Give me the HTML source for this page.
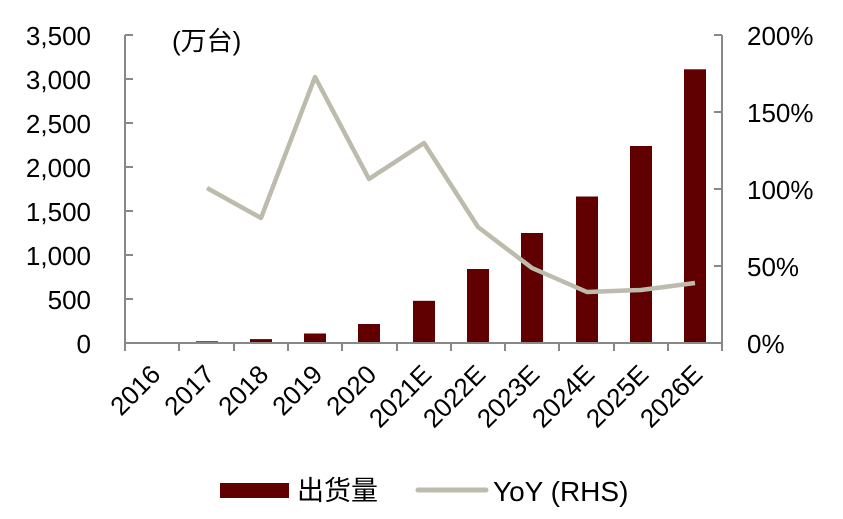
<!DOCTYPE html>
<html><head><meta charset="utf-8"><style>body{margin:0;background:#fff}svg{display:block}</style></head><body>
<svg width="843" height="519" xmlns="http://www.w3.org/2000/svg" font-family="Liberation Sans, Noto Sans CJK SC, sans-serif">
<g fill="#600000">
<rect x="196" y="341.3" width="22" height="1.7"/>
<rect x="250" y="339.1" width="22" height="3.9"/>
<rect x="304" y="333.5" width="22" height="9.5"/>
<rect x="358" y="324" width="22" height="19"/>
<rect x="413" y="300.8" width="22" height="42.2"/>
<rect x="467" y="269" width="22" height="74"/>
<rect x="521" y="233" width="22" height="110"/>
<rect x="576" y="196.5" width="22" height="146.5"/>
<rect x="630" y="146" width="22" height="197"/>
<rect x="684" y="69.3" width="22" height="273.7"/>
</g>
<polyline fill="none" stroke="#bcbbac" stroke-width="4.5" stroke-linejoin="round" points="207,188 261,218 315,77 369,179 424,143 478,227 532,268 587,292 641,290 695,283"/>
<g stroke="#888" stroke-width="2" fill="none">
<line x1="125" y1="35" x2="125" y2="351"/>
<line x1="722" y1="35" x2="722" y2="343"/>
<line x1="125" y1="343" x2="722" y2="343"/>
<path d="M125 35h8M125 79h8M125 123h8M125 167h8M125 211h8M125 255h8M125 299h8"/>
<path d="M722 35h-8M722 112h-8M722 189h-8M722 266h-8"/>
<path d="M179 343v8M234 343v8M288 343v8M342 343v8M397 343v8M451 343v8M505 343v8M559 343v8M614 343v8M668 343v8M722 343v8"/>
</g>
<g font-size="26" fill="#000" text-anchor="end">
<text x="91" y="45">3,500</text><text x="91" y="89">3,000</text><text x="91" y="133">2,500</text><text x="91" y="177">2,000</text><text x="91" y="221">1,500</text><text x="91" y="265">1,000</text><text x="91" y="309">500</text><text x="91" y="353">0</text>
</g>
<g font-size="26" fill="#000">
<text x="747" y="45">200%</text><text x="747" y="122">150%</text><text x="747" y="199">100%</text><text x="747" y="276">50%</text><text x="747" y="353">0%</text>
<text x="172" y="50">(万台)</text>
</g>
<g font-size="26" fill="#000" text-anchor="end">
<text transform="translate(162,376) rotate(-45)">2016</text>
<text transform="translate(216,376) rotate(-45)">2017</text>
<text transform="translate(270,376) rotate(-45)">2018</text>
<text transform="translate(324,376) rotate(-45)">2019</text>
<text transform="translate(378,376) rotate(-45)">2020</text>
<text transform="translate(433,376) rotate(-45)">2021E</text>
<text transform="translate(487,376) rotate(-45)">2022E</text>
<text transform="translate(541,376) rotate(-45)">2023E</text>
<text transform="translate(596,376) rotate(-45)">2024E</text>
<text transform="translate(650,376) rotate(-45)">2025E</text>
<text transform="translate(704,376) rotate(-45)">2026E</text>
</g>
<rect x="220" y="483" width="69" height="15" fill="#600000"/>
<text x="297" y="500" font-size="27">出货量</text>
<line x1="418" y1="490" x2="486" y2="490" stroke="#bcbbac" stroke-width="5" stroke-linecap="round"/>
<text x="493" y="501" font-size="28">YoY (RHS)</text>
</svg>
</body></html>
